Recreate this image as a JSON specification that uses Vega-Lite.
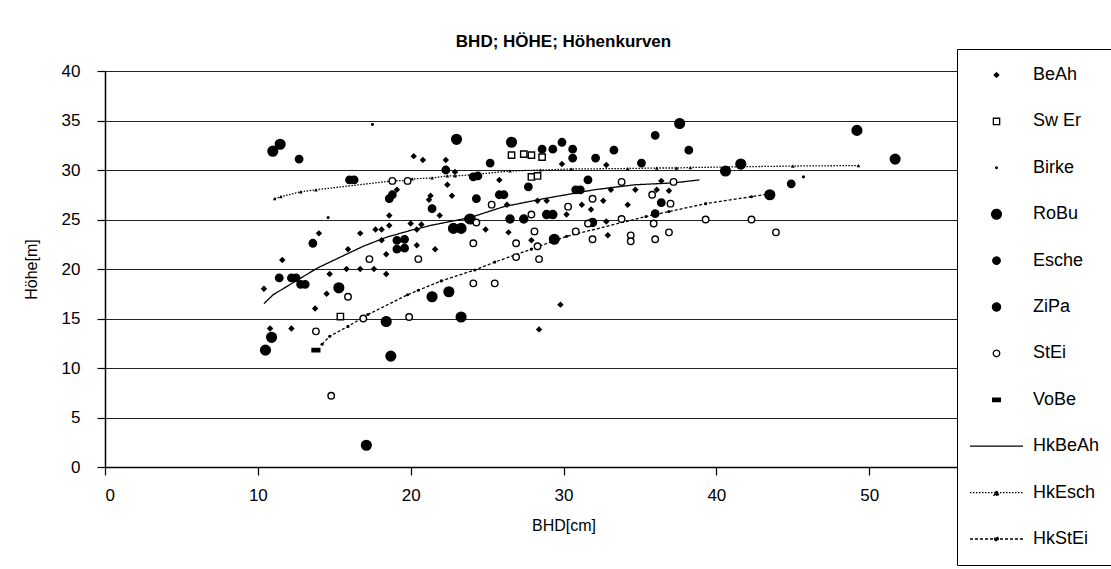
{
"$schema": "https://vega.github.io/schema/vega-lite/v6.json",
"autosize": "none",
"width": 917, "height": 396,
"padding": {"left": 105, "top": 71, "right": 89, "bottom": 102},
"background": "white",
"title": {"text": "BHD; HÖHE; Höhenkurven", "font": "Liberation Sans", "fontSize": 17, "fontWeight": "bold", "anchor": "middle", "offset": -2, "color": "black"},
"config": {
  "view": {"stroke": null},
  "font": "Liberation Sans",
  "axis": {"labelFont": "Liberation Sans", "labelFontSize": 17, "labelColor": "black", "titleFont": "Liberation Sans", "titleFontSize": 16, "titleFontWeight": "normal", "titleColor": "black", "domainColor": "black", "domainWidth": 1.5, "tickColor": "black", "tickSize": 8, "tickWidth": 1.2, "gridColor": "#222", "gridWidth": 1.2, "gridOpacity": 1},
  "legend": {"orient": "none", "legendX": 852, "legendY": -22, "padding": 12, "strokeColor": "black", "fillColor": "white", "labelFont": "Liberation Sans", "labelFontSize": 18, "labelColor": "black", "labelOffset": 9, "labelExpr": "datum.label + '\u00a0\u00a0\u00a0\u00a0\u00a0\u00a0\u00a0\u00a0'", "clipHeight": 28, "rowPadding": 18.4, "symbolStrokeWidth": 1.3, "symbolOpacity": 1, "titleFontSize": 0}
},
"datasets": {
 "pts": [
  {"s":"BeAh","x":20.2,"y":31.4},{"s":"BeAh","x":20.8,"y":31.0},{"s":"BeAh","x":22.3,"y":31.0},{"s":"BeAh","x":22.9,"y":29.8},{"s":"BeAh","x":19.1,"y":28.0},{"s":"BeAh","x":21.3,"y":27.4},{"s":"BeAh","x":21.2,"y":27.0},{"s":"BeAh","x":22.4,"y":28.5},{"s":"BeAh","x":22.7,"y":27.4},{"s":"BeAh","x":21.9,"y":25.4},{"s":"BeAh","x":18.6,"y":25.4},{"s":"BeAh","x":18.6,"y":24.4},{"s":"BeAh","x":20.0,"y":24.6},{"s":"BeAh","x":20.7,"y":24.5},{"s":"BeAh","x":20.4,"y":24.0},{"s":"BeAh","x":14.0,"y":23.6},{"s":"BeAh","x":16.7,"y":23.6},{"s":"BeAh","x":17.7,"y":24.0},{"s":"BeAh","x":18.1,"y":24.0},{"s":"BeAh","x":18.1,"y":22.9},{"s":"BeAh","x":20.4,"y":22.4},{"s":"BeAh","x":21.6,"y":22.0},{"s":"BeAh","x":15.9,"y":22.0},{"s":"BeAh","x":18.4,"y":21.5},{"s":"BeAh","x":11.6,"y":20.9},{"s":"BeAh","x":15.8,"y":20.0},{"s":"BeAh","x":16.7,"y":20.0},{"s":"BeAh","x":17.6,"y":20.0},{"s":"BeAh","x":18.4,"y":19.5},{"s":"BeAh","x":14.7,"y":19.5},{"s":"BeAh","x":10.4,"y":18.0},{"s":"BeAh","x":14.5,"y":17.5},{"s":"BeAh","x":13.75,"y":16.0},{"s":"BeAh","x":10.8,"y":14.0},{"s":"BeAh","x":12.2,"y":14.0},{"s":"BeAh","x":28.4,"y":13.9},{"s":"BeAh","x":29.8,"y":16.4},
  {"s":"BeAh","x":32.8,"y":30.5},{"s":"BeAh","x":29.9,"y":30.6},{"s":"BeAh","x":25.8,"y":29.0},{"s":"BeAh","x":36.4,"y":28.9},{"s":"BeAh","x":33.1,"y":28.0},{"s":"BeAh","x":34.7,"y":28.0},{"s":"BeAh","x":36.1,"y":28.0},{"s":"BeAh","x":36.9,"y":27.9},{"s":"BeAh","x":26.3,"y":26.5},{"s":"BeAh","x":28.3,"y":26.9},{"s":"BeAh","x":28.9,"y":26.9},{"s":"BeAh","x":31.2,"y":26.5},{"s":"BeAh","x":32.6,"y":26.9},{"s":"BeAh","x":34.2,"y":26.5},{"s":"BeAh","x":31.8,"y":26.0},{"s":"BeAh","x":30.2,"y":25.5},{"s":"BeAh","x":32.8,"y":24.8},{"s":"BeAh","x":24.9,"y":24.0},{"s":"BeAh","x":26.4,"y":23.7},{"s":"BeAh","x":27.9,"y":22.9},{"s":"BeAh","x":32.9,"y":23.4},
  {"s":"RoBu","x":10.98,"y":31.9},{"s":"RoBu","x":11.46,"y":32.6},{"s":"RoBu","x":23.0,"y":33.1},{"s":"RoBu","x":22.8,"y":24.1},{"s":"RoBu","x":23.3,"y":24.1},{"s":"RoBu","x":15.3,"y":18.1},{"s":"RoBu","x":22.5,"y":17.7},{"s":"RoBu","x":18.4,"y":14.7},{"s":"RoBu","x":21.4,"y":17.2},{"s":"RoBu","x":23.3,"y":15.15},{"s":"RoBu","x":10.9,"y":13.1},{"s":"RoBu","x":10.5,"y":11.8},{"s":"RoBu","x":18.7,"y":11.2},{"s":"RoBu","x":17.1,"y":2.2},{"s":"RoBu","x":37.6,"y":34.7},{"s":"RoBu","x":49.2,"y":34.0},{"s":"RoBu","x":51.7,"y":31.1},{"s":"RoBu","x":41.6,"y":30.6},{"s":"RoBu","x":40.6,"y":29.9},{"s":"RoBu","x":43.5,"y":27.5},{"s":"RoBu","x":23.9,"y":25.05},{"s":"RoBu","x":29.4,"y":23.0},{"s":"RoBu","x":26.6,"y":32.8},
  {"s":"Esche","x":12.7,"y":31.1},{"s":"Esche","x":22.3,"y":30.0},{"s":"Esche","x":18.6,"y":27.1},{"s":"Esche","x":18.8,"y":27.5},{"s":"Esche","x":21.4,"y":26.1},{"s":"Esche","x":19.1,"y":22.9},{"s":"Esche","x":19.6,"y":23.0},{"s":"Esche","x":19.1,"y":22.0},{"s":"Esche","x":19.6,"y":22.1},{"s":"Esche","x":13.6,"y":22.6},{"s":"Esche","x":11.4,"y":19.1},{"s":"Esche","x":12.2,"y":19.1},{"s":"Esche","x":12.5,"y":19.1},{"s":"Esche","x":12.8,"y":18.45},{"s":"Esche","x":13.1,"y":18.45},{"s":"Esche","x":16.0,"y":29.0},{"s":"Esche","x":16.3,"y":29.0},{"s":"Esche","x":36.0,"y":33.5},{"s":"Esche","x":38.2,"y":32.0},{"s":"Esche","x":33.3,"y":32.0},{"s":"Esche","x":29.9,"y":32.8},{"s":"Esche","x":28.6,"y":32.1},{"s":"Esche","x":29.3,"y":32.1},{"s":"Esche","x":30.6,"y":32.1},{"s":"Esche","x":30.6,"y":31.2},{"s":"Esche","x":32.1,"y":31.2},{"s":"Esche","x":25.2,"y":30.7},{"s":"Esche","x":35.1,"y":30.7},{"s":"Esche","x":24.1,"y":29.3},{"s":"Esche","x":24.4,"y":29.4},{"s":"Esche","x":31.6,"y":29.0},{"s":"Esche","x":27.7,"y":28.3},{"s":"Esche","x":30.8,"y":28.0},{"s":"Esche","x":31.1,"y":28.0},{"s":"Esche","x":24.3,"y":27.1},{"s":"Esche","x":25.8,"y":27.5},{"s":"Esche","x":26.1,"y":27.5},{"s":"Esche","x":36.4,"y":26.7},{"s":"Esche","x":36.0,"y":25.6},{"s":"Esche","x":44.9,"y":28.6},
  {"s":"ZiPa","x":23.8,"y":25.05},{"s":"ZiPa","x":26.5,"y":25.05},{"s":"ZiPa","x":27.4,"y":25.05},{"s":"ZiPa","x":28.9,"y":25.5},{"s":"ZiPa","x":29.3,"y":25.5},{"s":"ZiPa","x":31.9,"y":24.7},
  {"s":"StEi","x":17.3,"y":21.0},{"s":"StEi","x":20.5,"y":21.0},{"s":"StEi","x":15.9,"y":17.2},{"s":"StEi","x":13.8,"y":13.7},{"s":"StEi","x":16.9,"y":15.0},{"s":"StEi","x":19.9,"y":15.15},{"s":"StEi","x":14.8,"y":7.2},{"s":"StEi","x":24.1,"y":18.55},{"s":"StEi","x":25.5,"y":18.55},{"s":"StEi","x":39.3,"y":25.0},{"s":"StEi","x":42.3,"y":25.0},{"s":"StEi","x":43.9,"y":23.7},{"s":"StEi","x":33.8,"y":28.8},{"s":"StEi","x":37.2,"y":28.8},{"s":"StEi","x":35.8,"y":27.5},{"s":"StEi","x":25.3,"y":26.5},{"s":"StEi","x":30.3,"y":26.3},{"s":"StEi","x":31.9,"y":27.1},{"s":"StEi","x":37.0,"y":26.6},{"s":"StEi","x":24.3,"y":24.7},{"s":"StEi","x":27.9,"y":25.5},{"s":"StEi","x":31.6,"y":24.6},{"s":"StEi","x":33.8,"y":25.05},{"s":"StEi","x":35.9,"y":24.6},{"s":"StEi","x":28.1,"y":23.8},{"s":"StEi","x":30.8,"y":23.8},{"s":"StEi","x":31.9,"y":23.0},{"s":"StEi","x":34.4,"y":23.4},{"s":"StEi","x":34.4,"y":22.8},{"s":"StEi","x":36.0,"y":23.0},{"s":"StEi","x":36.9,"y":23.7},{"s":"StEi","x":24.1,"y":22.6},{"s":"StEi","x":26.9,"y":22.6},{"s":"StEi","x":28.3,"y":22.3},{"s":"StEi","x":26.9,"y":21.2},{"s":"StEi","x":28.4,"y":21.0},{"s":"StEi","x":18.8,"y":28.9},{"s":"StEi","x":19.8,"y":28.9},
  {"s":"Sw Er","x":15.4,"y":15.2},{"s":"Sw Er","x":26.6,"y":31.5},{"s":"Sw Er","x":27.4,"y":31.6},{"s":"Sw Er","x":27.9,"y":31.5},{"s":"Sw Er","x":28.6,"y":31.3},{"s":"Sw Er","x":27.9,"y":29.3},{"s":"Sw Er","x":28.3,"y":29.4},
  {"s":"VoBe","x":13.8,"y":11.8},
  {"s":"Birke","x":17.5,"y":34.6},{"s":"Birke","x":14.6,"y":25.2},{"s":"Birke","x":45.7,"y":29.3}
 ],
 "curves": [
  {"s":"HkBeAh","x":10.4,"y":16.5},{"s":"HkBeAh","x":11.0,"y":17.4},{"s":"HkBeAh","x":13.9,"y":20.1},{"s":"HkBeAh","x":15.4,"y":21.2},{"s":"HkBeAh","x":16.9,"y":22.3},{"s":"HkBeAh","x":18.4,"y":23.2},{"s":"HkBeAh","x":20.0,"y":23.9},{"s":"HkBeAh","x":21.3,"y":24.4},{"s":"HkBeAh","x":22.6,"y":24.8},{"s":"HkBeAh","x":23.9,"y":25.2},{"s":"HkBeAh","x":26.1,"y":26.3},{"s":"HkBeAh","x":28.7,"y":27.1},{"s":"HkBeAh","x":32.0,"y":28.0},{"s":"HkBeAh","x":34.6,"y":28.5},{"s":"HkBeAh","x":37.2,"y":28.7},{"s":"HkBeAh","x":38.9,"y":29.0},
  {"s":"HkEsch","x":11.1,"y":27.1},{"s":"HkEsch","x":11.5,"y":27.3},{"s":"HkEsch","x":12.8,"y":27.8},{"s":"HkEsch","x":13.8,"y":28.0},{"s":"HkEsch","x":18.8,"y":28.9},{"s":"HkEsch","x":19.8,"y":28.95},{"s":"HkEsch","x":20.1,"y":29.1},{"s":"HkEsch","x":21.4,"y":29.2},{"s":"HkEsch","x":22.4,"y":29.4},{"s":"HkEsch","x":22.9,"y":29.4},{"s":"HkEsch","x":23.9,"y":29.5},{"s":"HkEsch","x":26.5,"y":29.9},{"s":"HkEsch","x":28.5,"y":30.0},{"s":"HkEsch","x":30.5,"y":30.1},{"s":"HkEsch","x":34.2,"y":30.15},{"s":"HkEsch","x":36.1,"y":30.2},{"s":"HkEsch","x":37.4,"y":30.2},{"s":"HkEsch","x":38.3,"y":30.25},{"s":"HkEsch","x":45.0,"y":30.4},{"s":"HkEsch","x":49.3,"y":30.45},
  {"s":"HkStEi","x":14.2,"y":12.4},{"s":"HkStEi","x":14.7,"y":13.2},{"s":"HkStEi","x":15.9,"y":14.2},{"s":"HkStEi","x":17.2,"y":15.4},{"s":"HkStEi","x":19.8,"y":17.4},{"s":"HkStEi","x":20.5,"y":17.85},{"s":"HkStEi","x":22.0,"y":18.8},{"s":"HkStEi","x":24.2,"y":19.9},{"s":"HkStEi","x":25.5,"y":20.7},{"s":"HkStEi","x":27.9,"y":22.0},{"s":"HkStEi","x":30.2,"y":23.3},{"s":"HkStEi","x":35.4,"y":25.3},{"s":"HkStEi","x":36.9,"y":25.8},{"s":"HkStEi","x":39.3,"y":26.6},{"s":"HkStEi","x":42.3,"y":27.3},{"s":"HkStEi","x":43.5,"y":27.6}
 ]
},
"encoding": {
  "x": {"field": "x", "type": "quantitative", "scale": {"domain": [0, 60], "nice": false, "zero": false}, "axis": {"title": "BHD[cm]", "values": [0,10,20,30,40,50,60], "grid": false, "labelPadding": 12, "titlePadding": 14}},
  "y": {"field": "y", "type": "quantitative", "scale": {"domain": [0, 40], "nice": false}, "axis": {"title": "Höhe[m]", "values": [0,5,10,15,20,25,30,35,40], "grid": true, "labelPadding": 17, "titlePadding": 22}}
},
"layer": [
  {"data": {"name": "curves"}, "mark": {"type": "line", "strokeWidth": 1.3, "opacity": 1},
   "encoding": {
     "stroke": {"field": "s", "type": "nominal", "scale": {"domain": ["BeAh","Sw Er","Birke","RoBu","Esche","ZiPa","StEi","VoBe","HkBeAh","HkEsch","HkStEi"], "range": ["black","black","black","black","black","black","black","black","black","black","black"]}, "legend": {"title": null}},
     "strokeDash": {"field": "s", "type": "nominal", "scale": {"domain": ["BeAh","Sw Er","Birke","RoBu","Esche","ZiPa","StEi","VoBe","HkBeAh","HkEsch","HkStEi"], "range": [[1,0],[1,0],[1,0],[1,0],[1,0],[1,0],[1,0],[1,0],[1,0],[1.5,1.5],[3,2]]}, "legend": {"title": null}}
   }},
  {"data": {"name": "curves"}, "transform": [{"filter": "datum.s === 'HkEsch'"}], "mark": {"type": "point", "shape": "triangle-up", "filled": true, "color": "black", "size": 14, "opacity": 1}, "encoding": {}},
  {"data": {"name": "curves"}, "transform": [{"filter": "datum.s === 'HkStEi'"}], "mark": {"type": "point", "shape": "circle", "filled": true, "color": "black", "size": 10, "opacity": 1}, "encoding": {}},
  {"data": {"name": "pts"}, "mark": {"type": "point", "filled": true, "strokeWidth": 1.4, "opacity": 1},
   "encoding": {
     "shape": {"field": "s", "type": "nominal", "scale": {"domain": ["BeAh","Sw Er","Birke","RoBu","Esche","ZiPa","StEi","VoBe","HkBeAh","HkEsch","HkStEi"], "range": ["diamond","square","circle","circle","circle","circle","circle","M-1,-0.45H1V0.45H-1Z","M-1,0H1","M-1,0H1M-0.09,0.1L0,-0.08L0.09,0.1Z","M-1,0H1M-0.07,0A0.07,0.07 0 1,0 0.07,0A0.07,0.07 0 1,0 -0.07,0"]}, "legend": {"title": null}},
     "size": {"field": "s", "type": "nominal", "scale": {"type": "ordinal", "domain": ["BeAh","Sw Er","Birke","RoBu","Esche","ZiPa","StEi","VoBe","HkBeAh","HkEsch","HkStEi"], "range": [20,40,3,95,55,65,42,60,2809,2809,2809]}, "legend": {"title": null}},
     "fill": {"field": "s", "type": "nominal", "scale": {"domain": ["BeAh","Sw Er","Birke","RoBu","Esche","ZiPa","StEi","VoBe","HkBeAh","HkEsch","HkStEi"], "range": ["black","white","#888","black","black","black","white","black","black","black","black"]}, "legend": {"title": null}},
     "stroke": {"field": "s", "type": "nominal", "legend": {"title": null}}
   }}
]
}
